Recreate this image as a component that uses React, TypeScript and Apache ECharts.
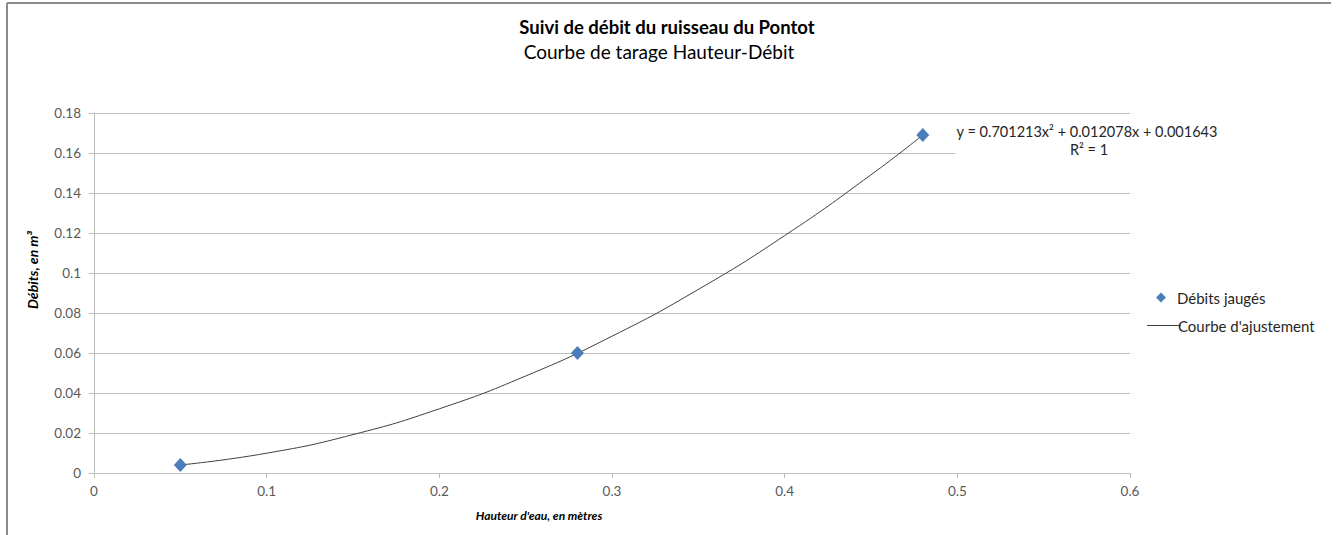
import React, { useEffect, useRef } from "react";
import * as echarts from "echarts";

const titleText = "Suivi de débit du ruisseau du Pontot";
const subtitleText = "Courbe de tarage Hauteur-Débit";
const xAxisName = "Hauteur d'eau, en mètres";
const yAxisName = "Débits, en m³";
const scatterName = "Débits jaugés";
const curveName = "Courbe d'ajustement";
const equationText = "y = 0.701213x² + 0.012078x + 0.001643";
const r2Text = "R² = 1";

// measured points (water height, discharge)
const measuredX = [0.05, 0.28, 0.48];
const measuredY = [0.004, 0.06, 0.169];

// fitted curve
const curveX = [0.05, 0.1, 0.15, 0.2, 0.25, 0.3, 0.35, 0.4, 0.45, 0.48];
const curveY = [0.004, 0.0099, 0.0192, 0.0321, 0.0485, 0.0684, 0.0918, 0.1187, 0.1491, 0.169];

const FONT = "Lato";

export default function App() {
  const ref = useRef<HTMLDivElement>(null);
  useEffect(() => {
    if (!ref.current) return;
    const chart = echarts.init(ref.current, null, { renderer: "svg" });
    chart.setOption({
      animation: false,
      backgroundColor: "#ffffff",
      textStyle: { fontFamily: FONT },
      grid: { left: 94, right: 208, top: 113, bottom: 62, containLabel: false },
      legend: [
        {
          left: 1151,
          top: 285,
          itemWidth: 10,
          itemHeight: 10,
          itemGap: 0,
          textStyle: { fontFamily: FONT, fontSize: 15, color: "#262626", padding: [0, 0, 0, 6] },
          data: [{ name: scatterName, icon: "diamond" }],
        },
        {
          left: 1142,
          top: 313,
          itemWidth: 34,
          itemHeight: 1.2,
          itemGap: 0,
          textStyle: { fontFamily: FONT, fontSize: 15, color: "#262626", padding: [0, 0, 0, -8] },
          data: [{ name: curveName, icon: "rect" }],
        },
      ],
      xAxis: {
        type: "value",
        min: 0,
        max: 0.6,
        interval: 0.1,
        axisLine: { show: true, lineStyle: { color: "#bdbdbd", width: 1 } },
        axisTick: { show: true, length: 5, lineStyle: { color: "#bdbdbd" } },
        axisLabel: { color: "#595959", fontSize: 13.5, fontFamily: FONT, margin: 11 },
        splitLine: { show: false },
      },
      yAxis: {
        type: "value",
        min: 0,
        max: 0.18,
        interval: 0.02,
        axisLine: { show: true, lineStyle: { color: "#bdbdbd", width: 1 } },
        axisTick: { show: true, length: 5, lineStyle: { color: "#bdbdbd" } },
        axisLabel: {
          color: "#595959",
          fontSize: 13.5,
          fontFamily: FONT,
          margin: 13,
          formatter: (v: number) => String(Math.round(v * 100) / 100),
        },
        splitLine: { show: true, lineStyle: { color: "#bdbdbd", width: 1 } },
      },
      series: [
        {
          name: curveName,
          type: "line",
          data: curveX.map((x, i) => [x, curveY[i]]),
          smooth: true,
          symbol: "none",
          lineStyle: { color: "#404040", width: 1 },
          itemStyle: { color: "#404040" },
          z: 3,
        },
        {
          name: scatterName,
          type: "scatter",
          data: measuredX.map((x, i) => [x, measuredY[i]]),
          symbol: "diamond",
          symbolSize: [13, 14],
          itemStyle: { color: "#4a7ebb", opacity: 1 },
          z: 4,
        },
      ],
      graphic: [
        { type: "line", shape: { x1: 7, y1: 3, x2: 1331, y2: 3 }, style: { stroke: "#8c8c8c", lineWidth: 2 }, z: 100 },
        { type: "line", shape: { x1: 7, y1: 3, x2: 7, y2: 535 }, style: { stroke: "#8c8c8c", lineWidth: 2 }, z: 100 },
        {
          type: "text",
          x: 667,
          y: 27,
          style: { text: titleText, font: `bold 18.5px ${FONT}`, fill: "#000000", align: "center", verticalAlign: "middle" },
        },
        {
          type: "text",
          x: 659,
          y: 51,
          style: { text: subtitleText, font: `19px ${FONT}`, fill: "#000000", align: "center", verticalAlign: "middle" },
        },
        {
          type: "rect",
          shape: { x: 955, y: 121, width: 275, height: 38 },
          style: { fill: "#ffffff" },
          z: 50,
        },
        {
          type: "text",
          x: 1087,
          y: 131,
          style: { text: equationText, font: `14.5px ${FONT}`, fill: "#262626", align: "center", verticalAlign: "middle" },
          z: 51,
        },
        {
          type: "text",
          x: 1089,
          y: 149,
          style: { text: r2Text, font: `14.5px ${FONT}`, fill: "#262626", align: "center", verticalAlign: "middle" },
          z: 51,
        },
        {
          type: "text",
          x: 539,
          y: 515,
          style: { text: xAxisName, font: `italic bold 12px ${FONT}`, fill: "#000000", align: "center", verticalAlign: "middle" },
        },
        {
          type: "text",
          x: 32,
          y: 270,
          rotation: Math.PI / 2,
          style: { text: yAxisName, font: `italic bold 14px ${FONT}`, fill: "#000000", align: "center", verticalAlign: "middle" },
        },
      ],
    });
    return () => chart.dispose();
  }, []);
  return (
    <div
      ref={ref}
      style={{ position: "fixed", left: 0, top: 0, width: 1338, height: 535 }}
    />
  );
}
